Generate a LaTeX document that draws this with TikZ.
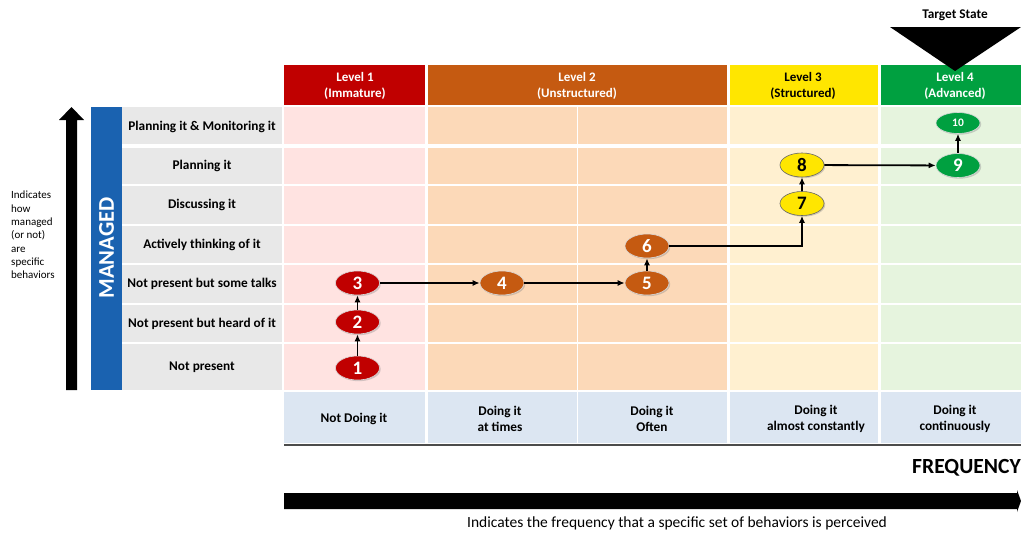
\documentclass[tikz,border=0pt]{standalone}
\usepackage{fontspec}
\setmainfont{Carlito}
\usetikzlibrary{shapes.geometric,shadows,arrows.meta}
\definecolor{hOne}{HTML}{C00000}
\definecolor{hTwo}{HTML}{C55A11}
\definecolor{hThree}{HTML}{FFE600}
\definecolor{hFour}{HTML}{00A040}
\definecolor{bOne}{HTML}{FFE3E1}
\definecolor{bTwo}{HTML}{FCD9B8}
\definecolor{bThree}{HTML}{FFF0D0}
\definecolor{bFour}{HTML}{E6F4DE}
\definecolor{labgrey}{HTML}{E8E8E8}
\definecolor{mblue}{HTML}{1A62B0}
\definecolor{botblue}{HTML}{DCE6F2}
\begin{document}
\begin{tikzpicture}[x=1pt,y=-1pt,
  rowlab/.style={font=\fontsize{13.3}{15}\selectfont\bfseries, text=black},
  hdr/.style={font=\fontsize{13}{16.5}\selectfont\bfseries, align=center},
  botlab/.style={font=\fontsize{13.3}{15.7}\selectfont\bfseries, align=center},
  num/.style={ellipse, minimum width=44pt, minimum height=24pt, inner sep=0pt,
    font=\fontsize{19}{19}\selectfont\bfseries, draw=white!85!black, line width=0.6pt,
    drop shadow={opacity=0.35, shadow xshift=1.2pt, shadow yshift=-1.2pt}},
  red/.style={num, fill=hOne, text=white},
  orange/.style={num, fill=hTwo, text=white},
  yellow/.style={num, fill=hThree, text=black, draw=black!60},
  green/.style={num, fill=hFour, text=white},
  arr/.style={-{Latex[length=7pt,width=6pt]}, line width=1.8pt, black},
  grid/.style={white, line width=1.8pt}
]
\useasboundingbox (0,0) rectangle (1021,533);
% body fills
\fill[bOne] (284,107) rectangle (426,390);
\fill[bTwo] (426,107) rectangle (728,390);
\fill[bThree] (728,107) rectangle (879,390);
\fill[bFour] (879,107) rectangle (1021,390);
\fill[labgrey] (122,107) rectangle (282,390);
\fill[botblue] (284,392) rectangle (1021,443);
% grid lines
\draw[grid, line width=3.5pt] (122,146) -- (1021,146);
\foreach \yy in {185,225,264,304,343} \draw[grid] (122,\yy) -- (1021,\yy);
\draw[grid, line width=3pt] (426,107) -- (426,443);
\draw[grid, line width=1.5pt] (577.5,107) -- (577.5,443);
\draw[grid, line width=3pt] (728.5,107) -- (728.5,443);
\draw[grid, line width=3pt] (879,107) -- (879,443);
\draw[black!70, line width=1.5pt] (284,445) -- (1021,445);
% headers
\fill[hOne] (284,65) rectangle (424.5,105);
\fill[hTwo] (427.5,65) rectangle (727,105);
\fill[hThree] (730,65) rectangle (877.5,105);
\fill[hFour] (880.5,65) rectangle (1021,105);
\node[hdr, text=white] (h1) at (355,86) {Level 1\\(Immature)};
\node[hdr, text=white] (h2) at (577,86) {Level 2\\(Unstructured)};
\node[hdr, text=black] (h3) at (803,86) {Level 3\\(Structured)};
\node[hdr, text=white] (h4) at (955,86) {Level 4\\(Advanced)};
% target state
\fill[black] (890,27) -- (1021,27) -- (955,71) -- cycle;
\node[font=\fontsize{13.3}{15}\selectfont\bfseries] (ts) at (955,15) {Target State};
% row labels
\node[rowlab] (r7) at (202,127) {Planning it \& Monitoring it};
\node[rowlab] (r6) at (202,166) {Planning it};
\node[rowlab] (r5) at (202,205) {Discussing it};
\node[rowlab] (r4) at (202,245) {Actively thinking of it};
\node[rowlab] (r3) at (202,284) {Not present but some talks};
\node[rowlab] (r2) at (202,324) {Not present but heard of it};
\node[rowlab] (r1) at (202,367) {Not present};
% managed bar
\fill[mblue] (91,107) rectangle (122,390);
\node[rotate=90, text=white, font=\fontsize{22.5}{22.5}\selectfont\bfseries] (mg) at (106.5,248) {MANAGED};
% big vertical arrow
\fill[black] (66,390) -- (66,120) -- (59,120) -- (71.5,107) -- (84,120) -- (77,120) -- (77,390) -- cycle;
\node[anchor=north west, align=left, inner sep=0pt, font=\fontsize{11}{13.3}\selectfont] (lt) at (11,191)
  {Indicates\\how\\managed\\(or not)\\are\\specific\\behaviors};
% bottom labels
\node[botlab] (f1) at (354,419) {Not Doing it};
\node[botlab] (f2) at (500,419) {Doing it\\at times};
\node[botlab] (f3) at (652,419) {Doing it\\Often};
\node[botlab] (f4) at (816,419) {Doing it\\almost constantly};
\node[botlab] (f5) at (955,419) {Doing it\\continuously};
\node[anchor=east, inner sep=0pt, font=\fontsize{21.6}{22}\selectfont\bfseries] (fq) at (1021,468) {FREQUENCY};
\fill[black] (284,493) -- (1017,493) -- (1017,490) -- (1021,501) -- (1017,512) -- (1017,509) -- (284,509) -- cycle;
\node[font=\fontsize{15.5}{17}\selectfont] (cap) at (677,523) {Indicates the frequency that a specific set of behaviors is perceived};
% nodes
\node[red] (n1) at (357.5,368) {1};
\node[red] (n2) at (357.5,322) {2};
\node[red] (n3) at (357.5,283) {3};
\node[orange] (n4) at (502,283) {4};
\node[orange] (n5) at (647,283) {5};
\node[orange] (n6) at (647,246) {6};
\node[yellow] (n7) at (802,203.5) {7};
\node[yellow] (n8) at (802,165) {8};
\node[green] (n9) at (958,165.5) {9};
\node[green, minimum height=21pt, font=\fontsize{11.5}{11.5}\selectfont\bfseries] (n10) at (958,123) {10};
% connectors
\draw[arr] (n1) -- (n2);
\draw[arr] (n2) -- (n3);
\draw[arr] (n3) -- (n4);
\draw[arr] (n4) -- (n5);
\draw[arr] (n5) -- (n6);
\draw[arr] (n6.east) -| (n7.south);
\draw[arr] (n7) -- (n8);
\draw[arr] (n8) -- (n9);
\draw[arr] (n9) -- (n10);
\end{tikzpicture}
\end{document}
